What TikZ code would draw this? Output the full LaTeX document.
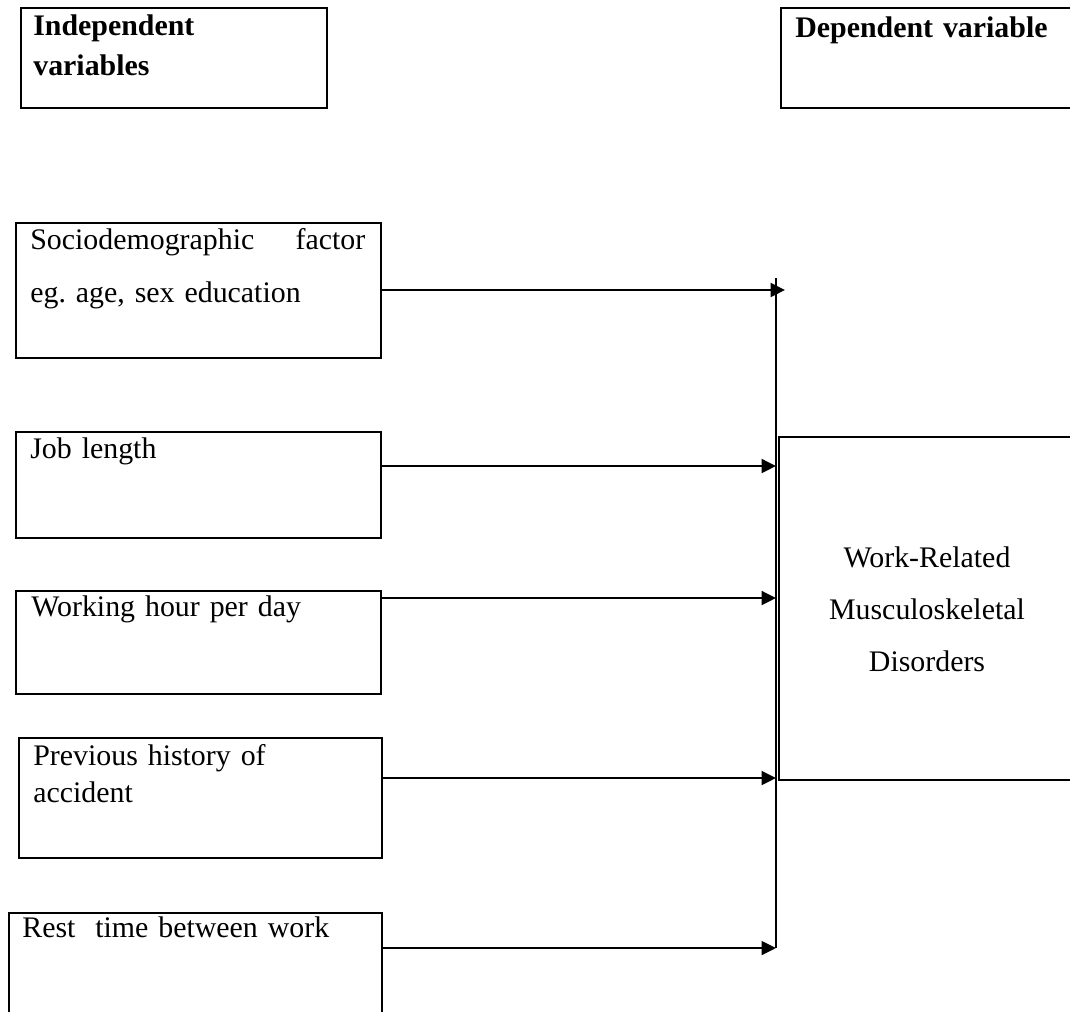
\documentclass[tikz,border=0pt]{standalone}
\usepackage{fontspec}
\setmainfont{Liberation Serif}
\usetikzlibrary{arrows.meta,positioning}

\begin{document}
\begin{tikzpicture}[x=0.02cm, y=-0.02cm, node distance=1cm,
  every node/.style={font=\fontsize{17}{29.6}\selectfont, inner sep=0pt},
  bx/.style={draw, line width=1.1pt, minimum width=7.3cm},
  tx/.style={anchor=base west, align=left, text width=6.7cm},
  ar/.style={-{Triangle[length=2.9mm,width=2.8mm]}, line width=1.1pt}]
\useasboundingbox (0,0) rectangle (1070,1011);
\clip (0,0) rectangle (1070,1011);
% headings
\node[bx, anchor=north west, minimum width=6.12cm, minimum height=2cm] (iv) at (20,7) {};
\node[tx, font=\fontsize{17}{22.8}\selectfont\bfseries] (ivt) at ([shift={(13,28)}]iv.north west) {Independent\\variables};
\node[bx, anchor=north west, minimum width=6.2cm, minimum height=2cm] (dv) at (780,7) {};
\node[tx, font=\fontsize{17}{22.8}\selectfont\bfseries] (dvt) at ([shift={(15,30)}]dv.north west) {Dependent variable};
% independent variables
\node[bx, anchor=north west, minimum height=2.7cm] (socio) at (15,222) {};
\node[tx, font=\fontsize{17}{30.2}\selectfont] (sociot) at ([shift={(15,27)}]socio.north west) {Sociodemographic\hfill factor\\eg.\ age, sex education};
\node[bx, below=1.44cm of socio.south west, anchor=north west, minimum height=2.12cm] (job) {};
\node[tx] (jobt) at ([shift={(15,28)}]job.north west) {Job length};
\node[bx, below=1.02cm of job.south west, anchor=north west, minimum height=2.06cm] (work) {};
\node[tx] (workt) at ([shift={(16,27)}]work.north west) {Working hour per day};
\node[bx, below=0.84cm of work.south west, anchor=north west, xshift=0.06cm, minimum width=7.26cm, minimum height=2.4cm] (prev) {};
\node[tx, font=\fontsize{17}{21}\selectfont] (prevt) at ([shift={(15,29)}]prev.north west) {Previous history of\\accident};
\node[bx, below=1.06cm of prev.south west, anchor=north west, xshift=-0.2cm, minimum width=7.46cm, minimum height=3cm] (rest) {};
\node[tx] (restt) at ([shift={(14,26)}]rest.north west) {Rest\ \ time between work};
% dependent variable
\node[bx, anchor=north west, minimum width=6.2cm, minimum height=6.86cm] (wrmd) at (778,436) {};
\node[anchor=base, align=center, text width=5.5cm] (wrmdt) at (927,567) {Work-Related\\Musculoskeletal\\Disorders};
% connectors
\coordinate (bustop) at (776,278);
\coordinate (busbot) at (776,948);
\coordinate (in1) at (785,290);
\coordinate (in2) at (776,466);
\coordinate (in3) at (776,598);
\coordinate (in4) at (776,778);
\draw[line width=1.1pt] (bustop) -- (busbot);
\foreach \u/\v in {socio/in1,job/in2,work/in3,prev/in4,rest/busbot} \draw[ar] (\u.east |- \v) -- (\v);
\end{tikzpicture}
\end{document}
